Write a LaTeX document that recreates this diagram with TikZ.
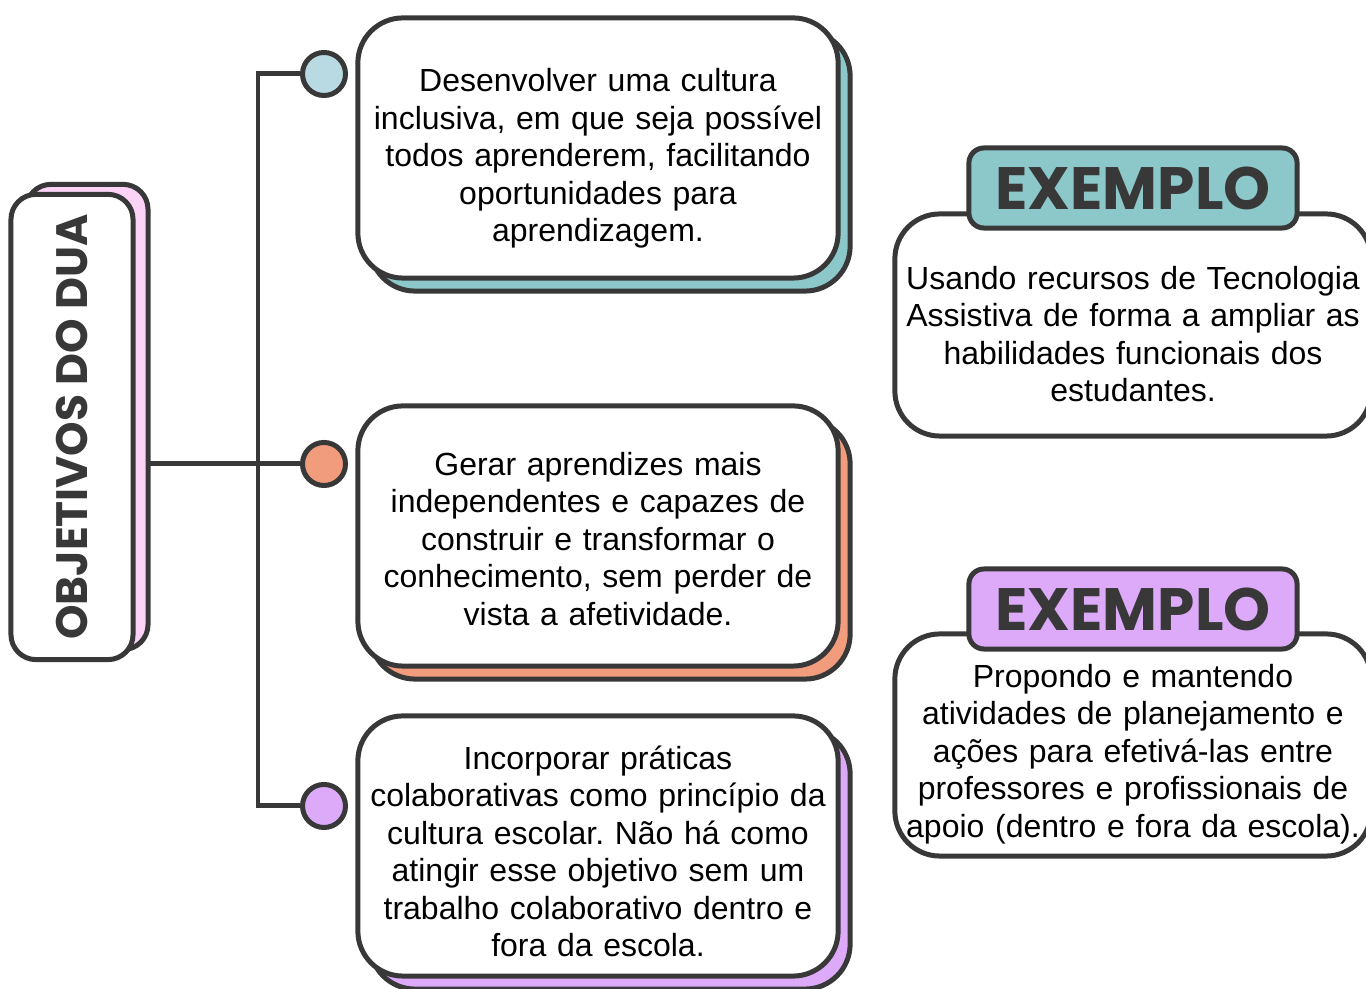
\documentclass[tikz,border=0pt]{standalone}
\usepackage{fontspec}
\setmainfont{Liberation Sans}
\newfontfamily\headfont{Poppins}
\usetikzlibrary{shadows,backgrounds}
\definecolor{ink}{HTML}{383838}
\definecolor{tealish}{HTML}{8CC7CA}
\definecolor{peach}{HTML}{F09C7D}
\definecolor{lilac}{HTML}{DCAAF8}
\definecolor{pinkish}{HTML}{FCD3F7}
\definecolor{paleblue}{HTML}{B9D9E3}
\frenchspacing

\begin{document}
\begin{tikzpicture}[x=0.01cm,y=-0.01cm,
  lift/.store in=\goallift, lift=0.44cm,
  goal/.style={draw=ink, line width=1.42pt, fill=white, rounded corners=0.45cm,
    minimum width=4.8cm, minimum height=2.6cm, text width=4.75cm, inner sep=0pt,
    align=center, font=\fontsize{9.1}{10.65}\selectfont,
    execute at begin node={\rule{0pt}{\goallift}},
    copy shadow={shadow xshift=0.12cm, shadow yshift=-0.13cm, fill=#1, draw=ink, line width=1.42pt}},
  example/.style={draw=ink, line width=1.42pt, fill=white, rounded corners=0.45cm,
    minimum width=4.76cm, minimum height=2.22cm, text width=4.75cm, inner sep=0pt,
    align=center, font=\fontsize{9.1}{10.65}\selectfont,
    execute at begin node={\rule{0pt}{0.41cm}}},
  tab/.style={draw=ink, line width=1.42pt, fill=#1, rounded corners=0.15cm,
    minimum width=3.28cm, minimum height=0.8cm, inner sep=0pt, text=ink,
    font=\headfont\bfseries\fontsize{17}{17}\selectfont},
  dot/.style={circle, draw=ink, line width=1.42pt, fill=#1, minimum size=0.43cm, inner sep=0pt}]
\useasboundingbox (0,0) rectangle (1366,989);
\clip (0,0) rectangle (1366,989);

\node[draw=ink, line width=1.42pt, fill=white, rounded corners=0.25cm,
  minimum width=1.22cm, minimum height=4.65cm, inner sep=0pt, text=ink,
  font=\headfont\bfseries\fontsize{12.5}{12.5}\selectfont,
  copy shadow={shadow xshift=0.15cm, shadow yshift=0.1cm, fill=pinkish, draw=ink, line width=1.42pt}]
  (title) at (72,427) {\rotatebox{90}{OBJETIVOS DO DUA}};

\node[dot=paleblue] (c1) at (324,74) {};
\node[dot=peach] (c2) at (324,464) {};
\node[dot=lilac] (c3) at (324,806) {};
\coordinate (fork) at (258,464);

\begin{scope}[on background layer]
\draw[ink, line width=1.42pt] (title.east |- c2.west) -- (c2.west);
\draw[ink, line width=1.42pt] (c1.west) -| (fork) |- (c3.west);
\end{scope}

\node[goal=tealish] (g1) at (598,148) {Desenvolver uma cultura\\ inclusiva, em que seja possível\\ todos aprenderem, facilitando\\ oportunidades para\\ aprendizagem.};
\node[goal=peach, lift=0.29cm] (g2) at (598,536) {Gerar aprendizes mais\\ independentes e capazes de\\ construir e transformar o\\ conhecimento, sem perder de\\ vista a afetividade.};
\node[goal=lilac, lift=0.34cm] (g3) at (598,846) {Incorporar práticas\\ colaborativas como princípio da\\ cultura escolar. Não há como\\ atingir esse objetivo sem um\\ trabalho colaborativo dentro e\\ fora da escola.};

\node[example] (ex1) at (1133,325) {Usando recursos de Tecnologia\\ Assistiva de forma a ampliar as\\ habilidades funcionais dos\\ estudantes.};
\node[tab=tealish] (t1) at (1133,188) {EXEMPLO};
\node[example] (ex2) at (1133,745) {Propondo e mantendo\\ atividades de planejamento e\\ ações para efetivá-las entre\\ professores e profissionais de\\ apoio (dentro e fora da escola).};
\node[tab=lilac] (t2) at (1133,609) {EXEMPLO};
\end{tikzpicture}
\end{document}
